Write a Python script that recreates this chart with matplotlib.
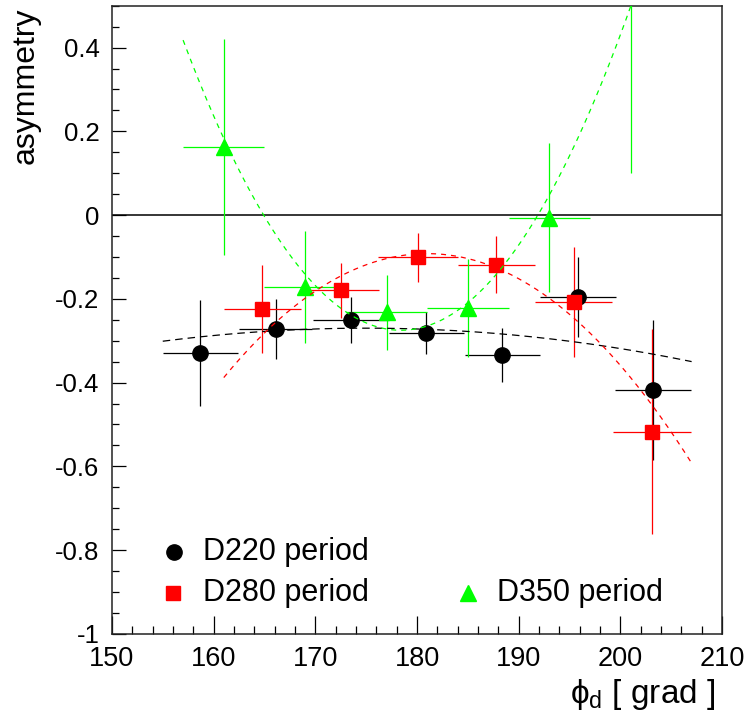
import numpy as np
import matplotlib.pyplot as plt
from matplotlib.ticker import MultipleLocator

plt.rcParams['font.family'] = ['Liberation Sans', 'DejaVu Sans']
plt.rcParams['mathtext.fontset'] = 'custom'
plt.rcParams['mathtext.rm'] = 'Liberation Sans'
plt.rcParams['mathtext.it'] = 'Liberation Sans'

# D220 period (black circles)
x_d220 = [158.7, 166.1, 173.5, 180.9, 188.4, 195.8, 203.2]
y_d220 = [-0.330, -0.272, -0.250, -0.281, -0.334, -0.196, -0.418]
xerr_d220 = [3.7, 3.6, 3.7, 3.7, 3.7, 3.75, 3.7]
yerr_d220 = [0.127, 0.072, 0.055, 0.050, 0.065, 0.095, 0.168]

# D280 period (red squares)
x_d280 = [164.8, 172.5, 180.1, 187.8, 195.4, 203.1]
y_d280 = [-0.224, -0.180, -0.101, -0.118, -0.208, -0.517]
xerr_d280 = [3.8, 3.8, 3.9, 3.8, 3.8, 3.85]
yerr_d280 = [0.105, 0.065, 0.058, 0.067, 0.132, 0.245]

# D350 period (green triangles), last point sits above the frame
x_d350 = [161.0, 169.0, 177.0, 185.0, 193.0, 201.0]
y_d350 = [0.162, -0.172, -0.232, -0.222, -0.006, 0.580]
xerr_d350 = [4.0, 4.0, 4.0, 4.0, 4.0, 4.0]
yerr_d350 = [0.258, 0.133, 0.090, 0.118, 0.178, 0.480]

# fitted parabolas: vertex x, vertex y, curvature, fit range
fit_d220 = (175.0, -0.270, -7.8e-5, 155.0, 207.0)
fit_d280 = (181.0, -0.092, -7.4e-4, 161.0, 207.0)
fit_d350 = (178.4, -0.275, 1.513e-3, 157.0, 202.0)

fig = plt.figure(figsize=(7.46, 7.17), dpi=100)
ax = fig.add_axes([0.150, 0.116, 0.818, 0.876])


def draw_fit(p, color, dashes):
    x0, c, a, lo, hi = p
    xs = np.linspace(lo, hi, 300)
    ax.plot(xs, a * (xs - x0) ** 2 + c, color=color, lw=0.9, dashes=dashes, zorder=4)


ax.axhline(0, color='black', lw=1.1, zorder=1)

ax.errorbar(x_d220, y_d220, xerr=xerr_d220, yerr=yerr_d220, fmt='o', color='black',
            ms=11, elinewidth=0.9, capsize=0, zorder=3)
ax.errorbar(x_d280, y_d280, xerr=xerr_d280, yerr=yerr_d280, fmt='s', color='#ff0000',
            ms=10, elinewidth=0.9, capsize=0, zorder=3)
ax.errorbar(x_d350, y_d350, xerr=xerr_d350, yerr=yerr_d350, fmt='^', color='#00ff00',
            ms=11, elinewidth=0.9, capsize=0, zorder=3)

draw_fit(fit_d220, 'black', (6, 4))
draw_fit(fit_d280, '#ff0000', (4, 4))
draw_fit(fit_d350, '#00ff00', (4, 4))

ax.set_xlim(150, 210)
ax.set_ylim(-1, 0.5)
ax.xaxis.set_major_locator(MultipleLocator(10))
ax.xaxis.set_minor_locator(MultipleLocator(2))
ax.yaxis.set_major_locator(MultipleLocator(0.2))
ax.yaxis.set_minor_locator(MultipleLocator(0.05))
ax.yaxis.set_major_formatter(plt.FuncFormatter(lambda v, p: '0' if abs(v) < 1e-9 else ('%g' % v)))

ax.tick_params(axis='x', which='major', direction='in', length=13, width=0.9, labelsize=19.5, pad=9)
ax.tick_params(axis='x', which='minor', direction='in', length=6, width=0.9)
ax.tick_params(axis='y', which='major', direction='in', length=10, width=0.9, labelsize=18.5, pad=9)
ax.tick_params(axis='y', which='minor', direction='in', length=5, width=0.9)
for s in ax.spines.values():
    s.set_linewidth(1.1)
    s.set_color('#222222')

# legend
tr = ax.transAxes
ax.plot([0.1016], [0.131], 'o', color='black', ms=11, transform=tr, clip_on=False)
ax.plot([0.1005], [0.0648], 's', color='#ff0000', ms=10, transform=tr, clip_on=False)
ax.plot([0.584], [0.0648], '^', color='#00ff00', ms=11, transform=tr, clip_on=False)
ax.text(0.149, 0.131, 'D220 period', transform=tr, fontsize=22, va='center', ha='left')
ax.text(0.149, 0.0648, 'D280 period', transform=tr, fontsize=22, va='center', ha='left')
ax.text(0.631, 0.0648, 'D350 period', transform=tr, fontsize=22, va='center', ha='left')

fig.text(0.959, 0.032, r'$\phi_{d}$ [ grad ]', fontsize=24, ha='right', va='center')
fig.text(0.034, 0.990, 'asymmetry', fontsize=23, rotation=90, ha='center', va='top')

fig.savefig('out.png', dpi=100)
